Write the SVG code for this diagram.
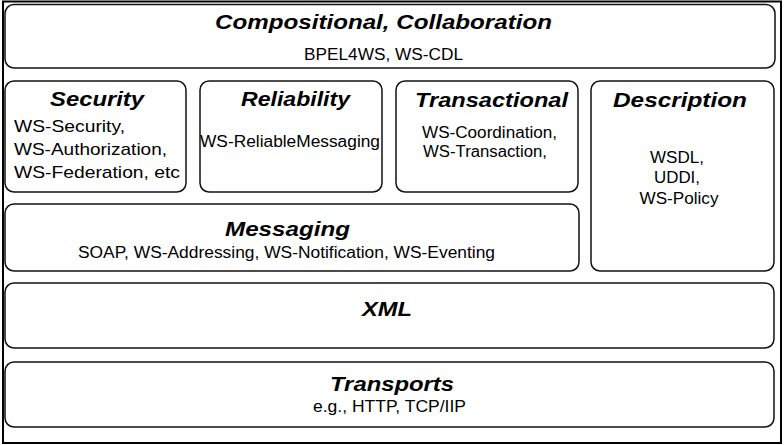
<svg xmlns="http://www.w3.org/2000/svg" width="784" height="445" viewBox="0 0 784 445">
  <style>
    .frame { fill: #ffffff; stroke: #000000; stroke-width: 2; }
    .box { fill: #ffffff; stroke: #111111; stroke-width: 1.5; }
    text { font-family: "Liberation Sans", Arial, sans-serif; fill: #000000; }
    .title { font-size: 21px; font-weight: bold; font-style: italic; }
    .body { font-size: 16px; }
    .sec { font-size: 17px; }
  </style>
  <rect x="0" y="0" width="784" height="445" fill="#ffffff"/>
  <rect class="frame" x="3" y="1.5" width="778" height="441.5"/>

  <g id="compositional">
    <rect class="box" x="5" y="4.5" width="770" height="63.5" rx="9" ry="9"/>
    <text class="title" x="383.5" y="29" text-anchor="middle" textLength="337" lengthAdjust="spacingAndGlyphs">Compositional, Collaboration</text>
    <text class="body" x="383.5" y="60" text-anchor="middle" textLength="159" lengthAdjust="spacingAndGlyphs">BPEL4WS, WS-CDL</text>
  </g>

  <g id="security">
    <rect class="box" x="5" y="81" width="181" height="111" rx="9" ry="9"/>
    <text class="title" x="97" y="106" text-anchor="middle" textLength="94" lengthAdjust="spacingAndGlyphs">Security</text>
    <text class="sec" x="14" y="132" textLength="111" lengthAdjust="spacingAndGlyphs">WS-Security,</text>
    <text class="sec" x="14" y="155" textLength="153" lengthAdjust="spacingAndGlyphs">WS-Authorization,</text>
    <text class="sec" x="14" y="178" textLength="166" lengthAdjust="spacingAndGlyphs">WS-Federation, etc</text>
  </g>

  <g id="reliability">
    <rect class="box" x="200" y="81" width="182" height="111" rx="9" ry="9"/>
    <text class="title" x="295.5" y="106" text-anchor="middle" textLength="109" lengthAdjust="spacingAndGlyphs">Reliability</text>
    <text class="body" x="290" y="147" text-anchor="middle" textLength="180" lengthAdjust="spacingAndGlyphs">WS-ReliableMessaging</text>
  </g>

  <g id="transactional">
    <rect class="box" x="396" y="81" width="182" height="111" rx="9" ry="9"/>
    <text class="title" x="491.5" y="107" text-anchor="middle" textLength="153" lengthAdjust="spacingAndGlyphs">Transactional</text>
    <text class="body" x="422" y="138" textLength="135" lengthAdjust="spacingAndGlyphs">WS-Coordination,</text>
    <text class="body" x="423" y="157" textLength="124" lengthAdjust="spacingAndGlyphs">WS-Transaction,</text>
  </g>

  <g id="description">
    <rect class="box" x="591" y="81" width="183" height="190" rx="9" ry="9"/>
    <text class="title" x="680" y="107" text-anchor="middle" textLength="134" lengthAdjust="spacingAndGlyphs">Description</text>
    <text class="body" x="677" y="163" text-anchor="middle" textLength="54" lengthAdjust="spacingAndGlyphs">WSDL,</text>
    <text class="body" x="677" y="183" text-anchor="middle" textLength="46" lengthAdjust="spacingAndGlyphs">UDDI,</text>
    <text class="body" x="679" y="204" text-anchor="middle" textLength="79" lengthAdjust="spacingAndGlyphs">WS-Policy</text>
  </g>

  <g id="messaging">
    <rect class="box" x="5" y="204" width="574" height="67" rx="9" ry="9"/>
    <text class="title" x="287.5" y="236" text-anchor="middle" textLength="125" lengthAdjust="spacingAndGlyphs">Messaging</text>
    <text class="body" x="286.5" y="258" text-anchor="middle" textLength="417" lengthAdjust="spacingAndGlyphs">SOAP, WS-Addressing, WS-Notification, WS-Eventing</text>
  </g>

  <g id="xml">
    <rect class="box" x="5" y="283" width="769" height="65" rx="9" ry="9"/>
    <text class="title" x="387" y="316" text-anchor="middle" textLength="50" lengthAdjust="spacingAndGlyphs">XML</text>
  </g>

  <g id="transports">
    <rect class="box" x="5" y="362" width="769" height="65" rx="9" ry="9"/>
    <text class="title" x="392" y="391" text-anchor="middle" textLength="124" lengthAdjust="spacingAndGlyphs">Transports</text>
    <text class="body" x="389.5" y="412" text-anchor="middle" textLength="153" lengthAdjust="spacingAndGlyphs">e.g., HTTP, TCP/IIP</text>
  </g>
</svg>
